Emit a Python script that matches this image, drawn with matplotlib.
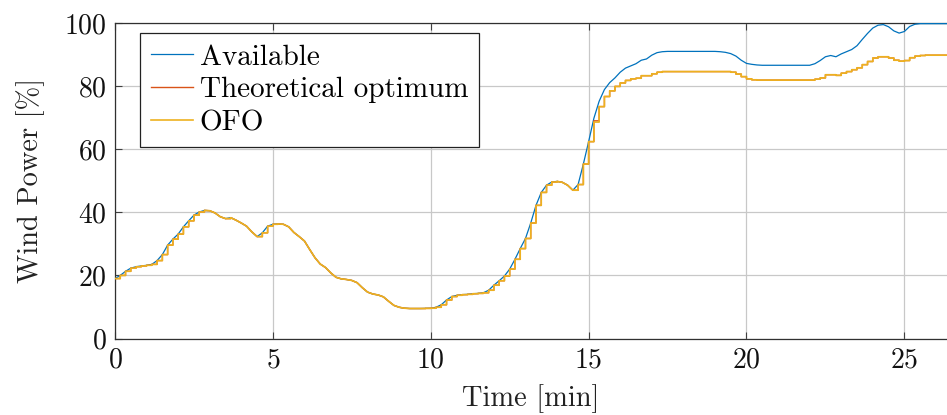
import numpy as np
import matplotlib
matplotlib.use("Agg")
import matplotlib.pyplot as plt

# ---- data (10-second samples, time in minutes) ----
sample_period_min = 1.0 / 6.0

available = [
    19.0, 20.0, 21.3, 22.3, 22.75, 23.0, 23.2, 23.5, 24.7, 26.6,
    29.6, 31.5, 33.1, 35.4, 37.3, 39.1, 40.1, 40.6, 40.5, 39.8,
    38.6, 38.0, 38.3, 37.5, 36.6, 35.6, 33.8, 32.3, 33.5, 35.6,
    36.2, 36.3, 36.2, 35.4, 33.6, 32.3, 30.9, 28.2, 25.6, 23.6,
    22.5, 20.8, 19.4, 18.9, 18.7, 18.4, 17.7, 16.1, 14.7, 14.1,
    13.8, 13.2, 11.8, 10.5, 9.9, 9.6, 9.5, 9.5, 9.5, 9.55,
    9.6, 9.9, 10.7, 12.2, 13.3, 13.7, 13.9, 14.0, 14.2, 14.3,
    14.5, 15.3, 16.9, 18.3, 19.8, 22.0, 25.1, 28.5, 31.7, 36.6,
    42.2, 46.3, 48.6, 49.6, 49.8, 49.5, 48.6, 47.0, 48.8, 55.3,
    62.4, 69.8, 75.2, 78.9, 81.1, 82.6, 84.4, 85.7, 86.4, 87.1,
    88.2, 88.6, 89.8, 90.6, 90.9, 91.0, 91.0, 91.0, 91.0, 91.0,
    91.0, 91.0, 91.0, 91.0, 91.0, 90.9, 90.7, 90.3, 89.5, 88.2,
    87.2, 86.9, 86.7, 86.6, 86.6, 86.6, 86.6, 86.6, 86.6, 86.6,
    86.6, 86.6, 86.6, 87.1, 88.1, 89.3, 89.7, 89.3, 90.2, 90.9,
    91.6, 92.8, 94.8, 96.7, 98.4, 99.3, 99.5, 98.8, 97.5, 96.8,
    97.3, 98.9, 99.6, 99.8, 99.8, 99.8, 99.8, 99.8, 99.8, 99.8,
]

optimum = [
    19.0, 20.0, 21.3, 22.3, 22.75, 23.0, 23.2, 23.5, 24.7, 26.6,
    29.6, 31.5, 33.1, 35.4, 37.3, 39.1, 40.1, 40.6, 40.5, 39.8,
    38.6, 38.0, 38.3, 37.5, 36.6, 35.6, 33.8, 32.3, 33.5, 35.6,
    36.2, 36.3, 36.2, 35.4, 33.6, 32.3, 30.9, 28.2, 25.6, 23.6,
    22.5, 20.8, 19.4, 18.9, 18.7, 18.4, 17.7, 16.1, 14.7, 14.1,
    13.8, 13.2, 11.8, 10.5, 9.9, 9.6, 9.5, 9.5, 9.5, 9.55,
    9.6, 9.9, 10.7, 12.2, 13.3, 13.7, 13.9, 14.0, 14.2, 14.3,
    14.5, 15.3, 16.9, 18.3, 19.8, 22.0, 25.1, 28.5, 31.7, 36.6,
    42.2, 46.3, 48.6, 49.6, 49.8, 49.5, 48.6, 47.0, 48.8, 55.3,
    62.4, 69.0, 73.5, 76.7, 78.5, 79.9, 81.0, 81.8, 82.3, 82.5,
    83.3, 83.3, 83.9, 84.4, 84.6, 84.6, 84.6, 84.6, 84.6, 84.6,
    84.6, 84.6, 84.6, 84.6, 84.6, 84.6, 84.6, 84.4, 83.8, 83.0,
    82.3, 82.0, 81.9, 81.9, 81.9, 81.9, 81.9, 81.9, 81.9, 81.9,
    81.9, 81.9, 81.9, 82.2, 82.6, 83.6, 83.6, 83.4, 84.1, 84.6,
    85.2, 85.8, 86.8, 87.8, 88.9, 89.3, 89.3, 88.9, 88.2, 87.9,
    88.1, 89.0, 89.5, 89.7, 89.8, 89.8, 89.8, 89.8, 89.8, 89.8,
]

ofo = list(optimum)
ofo[91] = 68.6

labels = ["Available", "Theoretical optimum", "OFO"]
colors = ["#0072BD", "#D95319", "#EDB120"]
xticks = [0, 5, 10, 15, 20, 25]
yticks = [0, 20, 40, 60, 80, 100]


def limited_steps(t, setpoint, avail):
    """Zero-order-hold setpoint, capped by the available power (piecewise linear)."""
    xs, ys = [], []
    for k in range(len(t) - 1):
        v = setpoint[k]
        a0, a1 = avail[k], avail[k + 1]
        xs.append(t[k]); ys.append(min(v, a0))
        if (a0 - v) * (a1 - v) < 0:
            tc = t[k] + (v - a0) / (a1 - a0) * (t[k + 1] - t[k])
            xs.append(tc); ys.append(v)
        xs.append(t[k + 1]); ys.append(min(v, a1))
    xs.append(t[-1]); ys.append(min(setpoint[-1], avail[-1]))
    return xs, ys


# ---- style ----
plt.rcParams["font.family"] = "serif"
plt.rcParams["font.serif"] = ["cmr10"]
plt.rcParams["mathtext.fontset"] = "cm"
plt.rcParams["axes.formatter.use_mathtext"] = True

t = np.arange(len(available)) * sample_period_min

fig = plt.figure(figsize=(9.47, 4.15), dpi=100)
ax = fig.add_axes([115 / 947, 1 - 338.5 / 415, (947 - 115) / 947, (338.5 - 23) / 415])

ax.plot(t, available, color=colors[0], lw=0.9, label=labels[0], zorder=3)
xo, yo = limited_steps(t, optimum, available)
ax.plot(xo, yo, color=colors[1], lw=1.0, label=labels[1], zorder=3)
xf, yf = limited_steps(t, ofo, available)
ax.plot(xf, yf, color=colors[2], lw=1.2, label=labels[2], zorder=4)

ax.set_xlim(0, 26.35)
ax.set_ylim(0, 100)
ax.set_xticks(xticks)
ax.set_yticks(yticks)
ax.grid(True, color="#c8c8c8", lw=0.9)
ax.set_axisbelow(True)
ax.tick_params(direction="in", length=5, width=0.8, labelsize=20, top=True, right=False,
               colors="#404040", labelcolor="#111111", pad=6)
for s in ["left", "bottom", "top"]:
    ax.spines[s].set_color("#303030")
    ax.spines[s].set_linewidth(0.9)
ax.spines["right"].set_visible(False)

ax.set_xlabel("Time [min]", fontsize=20.5, color="#222222", labelpad=8)
ax.set_ylabel("Wind Power [%]", fontsize=20.5, color="#222222", labelpad=14)

leg = ax.legend(loc="upper left", bbox_to_anchor=(0.030, 0.968), fontsize=21, frameon=True,
                fancybox=False, edgecolor="#222222", framealpha=1, handlelength=1.45,
                handletextpad=0.22, borderpad=0.38, labelspacing=0.22, borderaxespad=0.0)
leg.get_frame().set_linewidth(0.9)

fig.savefig("out.png", dpi=100)
